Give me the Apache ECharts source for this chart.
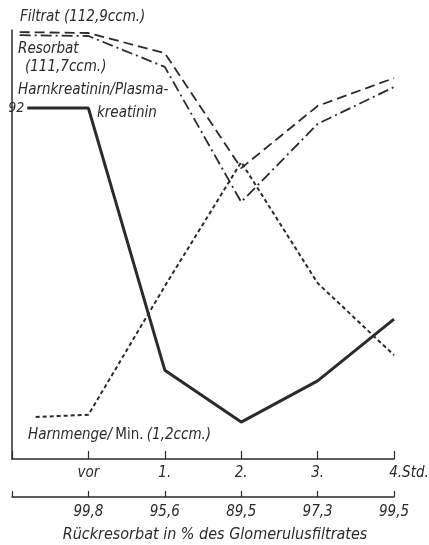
<!DOCTYPE html>
<html>
<head>
<meta charset="utf-8">
<script src="https://cdn.jsdelivr.net/npm/echarts@6/dist/echarts.min.js"></script>
<style>
  html, body { margin: 0; padding: 0; background: #fff; }
  #main { width: 429px; height: 545px; }
</style>
</head>
<body>
<div id="main"></div>
<script>
// Stunden (x = 1..5), Startstueck links bei x < 1
var hourLabels = ['vor', '1.', '2.', '3.', '4.'];
var resorbatPct = ['99,8', '95,6', '89,5', '97,3', '99,5'];

// relative Hoehe 0..100 (ohne Einheiten im Original)
var filtratX = [0.1, 1, 2, 3, 4, 5];
var filtratY = [99.5, 99.3, 94.6, 67.8, 82.3, 88.8];
var resorbatX = [0.1, 1, 2, 3, 4, 5];
var resorbatY = [98.8, 98.6, 91.4, 59.9, 78.1, 86.7];
var kreatininX = [0.2, 1, 2, 3, 4, 5];
var kreatininY = [81.8, 81.8, 20.7, 8.6, 18.2, 32.6];
var harnX = [0.31, 1, 2, 3, 4, 5];
var harnY = [9.8, 10.3, 40.3, 69.2, 41.0, 24.2];

var FONT = '"Liberation Sans Narrow", "DejaVu Sans Condensed", sans-serif';
var INK = '#2b2b2b';

function pairs(xs, ys) {
    return xs.map(function (x, i) { return [x, ys[i]]; });
}

var chart = echarts.init(document.getElementById('main'));

var option = {
    backgroundColor: '#fff',
    animation: false,
    grid: { left: 12, right: 35, top: 30, bottom: 86, outerBoundsMode: 'none', containLabel: false },
    xAxis: [
        {
            type: 'value', min: 0, max: 5, interval: 1,
            axisLine: { lineStyle: { color: INK, width: 1.5 } },
            axisTick: { inside: true, length: 8, lineStyle: { color: INK, width: 1.2 } },
            splitLine: { show: false },
            axisLabel: {
                margin: 7,
                fontFamily: FONT, fontStyle: 'italic', fontSize: 15, color: INK,
                formatter: function (v) {
                    if (v === 5) return '{last|4.Std.}';
                    return v >= 1 ? hourLabels[v - 1] : '';
                },
                rich: { last: { fontFamily: FONT, fontStyle: 'italic', fontSize: 15, color: INK, padding: [0, 0, 0, 30] } }
            }
        },
        {
            type: 'value', min: 0, max: 5, interval: 1, position: 'bottom', offset: 38,
            axisLine: { onZero: false, lineStyle: { color: INK, width: 1.5 } },
            axisTick: { inside: true, length: 6, lineStyle: { color: INK, width: 1.2 } },
            splitLine: { show: false },
            axisLabel: {
                margin: 8,
                fontFamily: FONT, fontStyle: 'italic', fontSize: 15, color: INK,
                formatter: function (v) { return v >= 1 ? resorbatPct[v - 1] : ''; }
            },
            name: 'Rückresorbat in % des Glomerulusfiltrates',
            nameLocation: 'middle', nameGap: 30,
            nameTextStyle: { fontFamily: FONT, fontStyle: 'italic', fontSize: 16, color: INK, padding: [0, 0, 0, 24] }
        }
    ],
    yAxis: {
        type: 'value', min: 0, max: 100,
        axisLine: { show: true, lineStyle: { color: INK, width: 1.5 } },
        axisTick: { show: false },
        axisLabel: { show: false },
        splitLine: { show: false }
    },
    graphic: [
        { type: 'text', left: 20, top: 10, style: { text: 'Filtrat (112,9ccm.)', font: 'italic 15px ' + FONT, fill: INK } },
        { type: 'text', left: 18, top: 42, style: { text: 'Resorbat', font: 'italic 15px ' + FONT, fill: INK } },
        { type: 'text', left: 25, top: 60, style: { text: '(111,7ccm.)', font: 'italic 15px ' + FONT, fill: INK } },
        { type: 'text', left: 18, top: 83, style: { text: 'Harnkreatinin/Plasma-', font: 'italic 15px ' + FONT, fill: INK } },
        { type: 'text', left: 97, top: 106, style: { text: 'kreatinin', font: 'italic 15px ' + FONT, fill: INK } },
        { type: 'text', left: 28, top: 428, style: {
            text: '{i|Harnmenge/} {n|Min.} {i|(1,2ccm.)}',
            rich: {
                i: { font: 'italic 15px ' + FONT, fill: INK },
                n: { font: '15px ' + FONT, fill: INK }
            }
        } }
    ],
    series: [
        {
            name: 'Filtrat', type: 'line', symbol: 'none', xAxisIndex: 0,
            lineStyle: { color: INK, width: 1.8, type: [10, 5] },
            data: pairs(filtratX, filtratY)
        },
        {
            name: 'Resorbat', type: 'line', symbol: 'none', xAxisIndex: 0,
            lineStyle: { color: INK, width: 1.8, type: [11, 4, 2, 4] },
            data: pairs(resorbatX, resorbatY)
        },
        {
            name: 'Harnkreatinin/Plasmakreatinin', type: 'line', xAxisIndex: 0,
            symbol: 'circle', symbolSize: 0, showSymbol: true,
            itemStyle: { color: INK },
            lineStyle: { color: INK, width: 3 },
            label: { show: false },
            data: pairs(kreatininX, kreatininY).map(function (p, i) {
                if (i === 0) {
                    return { value: p, label: { show: true, position: 'left', distance: 3, formatter: '92',
                        fontFamily: FONT, fontStyle: 'italic', fontSize: 14, color: INK } };
                }
                return p;
            })
        },
        {
            name: 'Harnmenge/Min.', type: 'line', symbol: 'none', xAxisIndex: 0,
            lineStyle: { color: INK, width: 2, type: [4, 3] },
            data: pairs(harnX, harnY)
        }
    ]
};

chart.setOption(option);
</script>
</body>
</html>
